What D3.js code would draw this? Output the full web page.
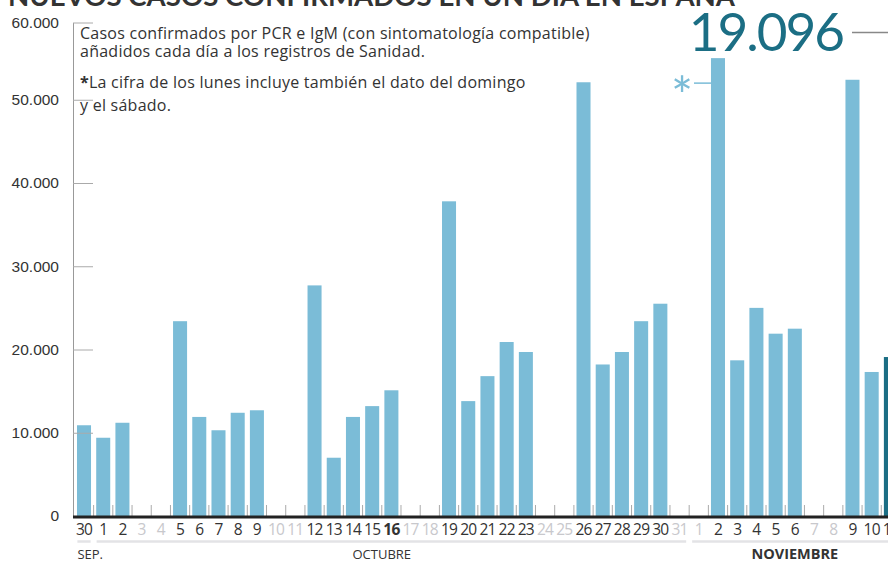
<!DOCTYPE html>
<html>
<head>
<meta charset="utf-8">
<script src="https://cdn.jsdelivr.net/npm/d3@7"></script>
<style>
  body { margin: 0; background: #fff; }
  svg { display: block; font-family: "Open Sans", Lato, sans-serif; }
</style>
</head>
<body>
<svg id="chart" width="888" height="562"></svg>
<script>
// days shown on the x axis (Sep 30 -> Nov 11)
const dayLabels = ['30','1','2','3','4','5','6','7','8','9','10','11','12','13','14','15','16','17','18','19','20',
  '21','22','23','24','25','26','27','28','29','30','31','1','2','3','4','5','6','7','8','9','10','11'];
// new cases added each day (null = no report that day)
const cases = [10900, 9400, 11200, null, null, 23400, 11900, 10300, 12400, 12700, null, null,
  27700, 7000, 11900, 13200, 15100, null, null, 37800, 13800, 16800, 20900, 19700, null, null,
  52100, 18200, 19700, 23400, 25500, null, null, 55000, 18700, 25000, 21900, 22500, null, null,
  52400, 17300, 19096];
const months = [
  {name: 'SEP.', from: 0, to: 0, labelAt: 0, anchor: 'start', bold: false},
  {name: 'OCTUBRE', from: 1, to: 31, labelAt: 15.5, anchor: 'middle', bold: false},
  {name: 'NOVIEMBRE', from: 32, to: 42, labelAt: 37, anchor: 'middle', bold: true}
];
const yTicks = [0, 10000, 20000, 30000, 40000, 50000, 60000];
const boldDay = 16;
const mondayIdx = 33;
const lastValue = cases[cases.length - 1];

const svg = d3.select('#chart');
const esFormat = d3.formatLocale({decimal: ',', thousands: '.', grouping: [3], currency: ['', '€']}).format(',d');

const xScale = d3.scaleBand().domain(d3.range(cases.length)).range([74.4, 900.5])
  .paddingInner(0.27).paddingOuter(0.135);
const yScale = d3.scaleLinear().domain([0, 60000]).range([516, 16.5]);
const step = xScale.step();
const gap = (step - xScale.bandwidth()) / 2;
const topY = 23; // the axis is cut short at the top

// title (cut at the top of the picture)
svg.append('text')
  .attr('x', 8).attr('y', 5.5)
  .attr('font-family', 'Lato, sans-serif')
  .attr('font-size', 26).attr('font-weight', 700).attr('fill', '#333')
  .attr('textLength', 727).attr('lengthAdjust', 'spacingAndGlyphs')
  .text('NUEVOS CASOS CONFIRMADOS EN UN DÍA EN ESPAÑA');

// bars
svg.append('g').selectAll('rect')
  .data(cases.map((v, i) => ({v, i})).filter(d => d.v !== null))
  .join('rect')
  .attr('x', d => xScale(d.i))
  .attr('y', d => yScale(d.v))
  .attr('width', xScale.bandwidth())
  .attr('height', d => yScale(0) - yScale(d.v))
  .attr('fill', d => d.i === cases.length - 1 ? '#1b6e84' : '#7bbcd7');

// y axis
const yAxis = d3.axisLeft(yScale).tickValues(yTicks).tickFormat(esFormat)
  .tickSizeInner(-20).tickSizeOuter(0).tickPadding(14);
const gy = svg.append('g').attr('transform', 'translate(73,0)').call(yAxis);
gy.select('.domain').attr('stroke', '#999').attr('d', `M0.5,${yScale(0)}V${topY}`);
gy.selectAll('.tick line').attr('stroke', '#aaa');
gy.selectAll('.tick text').attr('font-size', 15.5).attr('fill', '#333');
gy.selectAll('.tick').filter(d => d === 60000).attr('transform', `translate(0,${topY})`);

// small separators between days
svg.append('g').selectAll('line')
  .data(d3.range(1, cases.length))
  .join('line')
  .attr('x1', i => xScale(i) - gap)
  .attr('x2', i => xScale(i) - gap)
  .attr('y1', yScale(0) - 11).attr('y2', yScale(0))
  .attr('stroke', '#aaa').attr('stroke-width', 1);

// baseline
svg.append('line')
  .attr('x1', 73).attr('x2', 888).attr('y1', yScale(0) + 1).attr('y2', yScale(0) + 1)
  .attr('stroke', '#222').attr('stroke-width', 3);

// day labels
svg.append('g').selectAll('text')
  .data(dayLabels.map((t, i) => ({t, i})))
  .join('text')
  .attr('x', d => xScale(d.i) + xScale.bandwidth() / 2)
  .attr('y', 535)
  .attr('text-anchor', 'middle')
  .attr('font-size', 15.5)
  .attr('letter-spacing', -0.8)
  .attr('font-weight', d => d.i === boldDay ? 700 : 400)
  .attr('fill', d => cases[d.i] === null ? '#c8c8cc' : '#333')
  .text(d => d.t);

// month brackets
const monthG = svg.append('g');
months.forEach(m => {
  const x0 = Math.max(xScale(m.from) - gap + 3, 72);
  const x1 = Math.min(xScale(m.to) + xScale.bandwidth() + gap - 3, 888);
  monthG.append('line')
    .attr('x1', x0).attr('x2', x1).attr('y1', 541.5).attr('y2', 541.5)
    .attr('stroke', '#e3e3e6').attr('stroke-width', 2.5);
  monthG.append('text')
    .attr('x', m.anchor === 'start' ? x0 : xScale(0) + m.labelAt * step + xScale.bandwidth() / 2)
    .attr('y', 559)
    .attr('text-anchor', m.anchor)
    .attr('font-size', m.bold ? 14.5 : 13)
    .attr('font-weight', m.bold ? 700 : 400)
    .attr('fill', '#333')
    .text(m.name);
});

// explanatory note
const note = svg.append('g').attr('font-size', 16).attr('fill', '#333').attr('letter-spacing', 0.25);
note.append('text').attr('x', 80).attr('y', 38.5)
  .text('Casos confirmados por PCR e IgM (con sintomatología compatible)');
note.append('text').attr('x', 80).attr('y', 57)
  .text('añadidos cada día a los registros de Sanidad.');
const n3 = note.append('text').attr('x', 80).attr('y', 88);
n3.append('tspan').attr('font-weight', 700).text('*');
n3.append('tspan').text('La cifra de los lunes incluye también el dato del domingo');
note.append('text').attr('x', 80).attr('y', 111).text('y el sábado.');

// asterisk marker next to the Monday bar
const markY = yScale(cases[mondayIdx]) + 25;
svg.append('line')
  .attr('x1', xScale(mondayIdx) - 17).attr('x2', xScale(mondayIdx))
  .attr('y1', markY).attr('y2', markY)
  .attr('stroke', '#7bbcd7').attr('stroke-width', 1.5);
svg.append('text')
  .attr('x', xScale(mondayIdx) - 29).attr('y', markY + 32)
  .attr('text-anchor', 'middle')
  .attr('font-family', 'Lato, sans-serif')
  .attr('font-size', 52).attr('font-weight', 400).attr('fill', '#7bbcd7')
  .text('*');

// latest value
svg.append('text')
  .attr('x', 843).attr('y', 51)
  .attr('text-anchor', 'end')
  .attr('font-family', 'Lato, sans-serif')
  .attr('font-size', 53).attr('font-weight', 400).attr('fill', '#1b6e84')
  .attr('letter-spacing', -2)
  .text(esFormat(lastValue));
svg.append('line')
  .attr('x1', 852).attr('x2', 888).attr('y1', 32.5).attr('y2', 32.5)
  .attr('stroke', '#888').attr('stroke-width', 1.5);
</script>
</body>
</html>
